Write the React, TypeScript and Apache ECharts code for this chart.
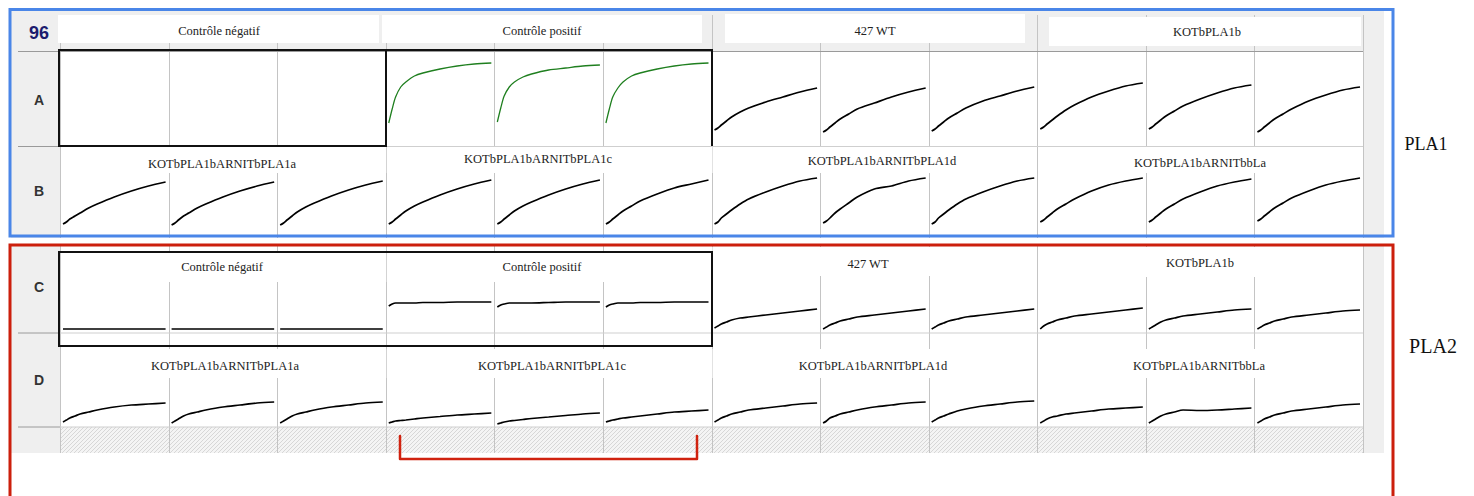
import React, { useEffect, useRef } from "react";
import * as echarts from "echarts";

// ---------- DATA ----------
const PLATE_ID = "96";
const PLATE_LABELS = ["PLA1", "PLA2"];
const ROW_LETTERS = ["A", "B", "C", "D"];
const GROUPS_AC = ["Contrôle négatif", "Contrôle positif", "427 WT", "KOTbPLA1b"];
const GROUPS_BD = ["KOTbPLA1bARNITbPLA1a", "KOTbPLA1bARNITbPLA1c", "KOTbPLA1bARNITbPLA1d", "KOTbPLA1bARNITbbLa"];
const TIMES_MIN = [0, 2, 4, 7, 10, 15, 20, 30, 40, 50, 60];
const GREEN_WELLS = ["A4", "A5", "A6"];

// signal per well (a.u.), one array per well, 12 wells per row
const ROW_A: number[][] = [
  [], [], [],
  [23, 37, 49, 59, 64, 70, 73, 77, 80, 82, 83],
  [24, 38, 50, 59, 64, 69, 72, 76, 78, 80, 81],
  [23, 37, 49, 58, 64, 70, 73, 77, 80, 82, 83],
  [16, 18, 21, 25, 29, 34, 38, 44, 49, 54, 58],
  [14, 16, 19, 23, 27, 32, 37, 43, 49, 54, 58],
  [15, 17, 20, 24, 28, 33, 38, 45, 50, 55, 59],
  [17, 19, 22, 26, 30, 36, 41, 49, 55, 60, 63],
  [17, 19, 22, 26, 30, 35, 40, 47, 53, 58, 61],
  [14, 16, 19, 23, 27, 32, 37, 45, 51, 56, 59],
];
const ROW_B: number[][] = [
  [17, 19, 22, 25, 28, 33, 37, 44, 50, 55, 59],
  [16, 18, 21, 25, 28, 33, 37, 44, 50, 55, 59],
  [16, 18, 21, 25, 29, 34, 38, 45, 51, 56, 60],
  [17, 19, 22, 26, 30, 35, 39, 46, 52, 57, 61],
  [17, 19, 22, 26, 30, 35, 39, 46, 52, 57, 61],
  [17, 19, 22, 26, 30, 35, 40, 47, 53, 57, 61],
  [17, 19, 23, 27, 31, 37, 42, 49, 55, 60, 63],
  [18, 20, 23, 28, 32, 38, 44, 52, 55, 60, 63],
  [17, 19, 23, 27, 31, 37, 42, 49, 55, 60, 63],
  [19, 21, 24, 28, 32, 37, 42, 50, 56, 60, 63],
  [19, 21, 24, 28, 32, 37, 42, 49, 55, 59, 62],
  [20, 22, 25, 29, 33, 38, 43, 50, 56, 60, 63],
];
const ROW_C: number[][] = [
  [4, 4, 4, 4, 4, 4, 4, 4, 4, 4, 4],
  [4, 4, 4, 4, 4, 4, 4, 4, 4, 4, 4],
  [4, 4, 4, 4, 4, 4, 4, 4, 4, 4, 4],
  [27, 29, 30, 30, 30, 30, 30.5, 30.5, 31, 31, 31],
  [26, 28, 29, 30, 30, 30, 30, 30.5, 31, 31, 31],
  [26, 28, 29, 30, 30, 30, 30.5, 30.5, 31, 31, 31],
  [5, 7, 9, 11, 13, 15, 16, 18, 20, 22, 24],
  [4, 6, 8, 10, 12, 14, 16, 18, 20, 22, 24],
  [4, 6, 8, 10, 12, 14, 16, 18, 20, 22, 24],
  [4, 7, 9, 11, 13, 15, 17, 19, 21, 23, 25],
  [4, 6, 8, 11, 13, 15, 17, 19, 21, 23, 24],
  [4, 6, 8, 10, 12, 14, 16, 18, 20, 22, 23],
];
const ROW_D: number[][] = [
  [5, 7, 9, 11, 13, 15, 17, 20, 22, 23, 24],
  [4, 6, 8, 11, 13, 15, 17, 20, 22, 24, 25],
  [4, 6, 8, 11, 13, 15, 17, 20, 22, 24, 25],
  [4, 5, 6, 6.5, 7, 8, 9, 10.5, 12, 13, 14],
  [3, 4, 5, 6, 6.5, 7.5, 8.5, 10, 11.5, 13, 14],
  [5, 6, 7, 8, 9, 10, 11, 13, 15, 16, 17],
  [5, 7, 9, 11, 13, 15, 17, 19, 21, 23, 24],
  [4, 6, 9, 11, 13, 15, 17, 20, 22, 24, 25],
  [5, 7, 9, 11, 13, 16, 18, 21, 23, 25, 26],
  [4, 6, 8, 10, 11, 13, 14, 16, 18, 19, 20],
  [4, 6, 8, 11, 13, 15, 17, 16.5, 17, 18, 19],
  [4, 6, 8, 10, 12, 14, 16, 18, 20, 22, 23],
];
const ROWS_DATA = [ROW_A, ROW_B, ROW_C, ROW_D];

// ---------- LAYOUT ----------
const X0 = 60;
const X1 = 1363;
const COL_W = (X1 - X0) / 12;
const colX = (i: number) => X0 + i * COL_W;
const ROW_BOTTOM = [146, 241, 333, 427];
const ROW_MID = [100, 191, 287, 380];
const WELL_H = 95;
const Y_MAX = 95;

const LABEL_POS = [
  { x: [219, 542, 875, 1207], y: [31, 31, 31, 32] },
  { x: [222, 538, 882, 1200], y: [164, 159, 161, 163] },
  { x: [222, 542, 868, 1200], y: [267, 267, 264, 263] },
  { x: [225, 552, 873, 1199], y: [366, 366, 366, 366] },
];
const HEADER_BOXES = [
  [58, 15, 321, 28],
  [382, 15, 320, 28],
  [725, 14, 300, 29],
  [1049, 17, 312, 29],
];
const BOX_Y = [
  null,
  [[147, 173], [147, 173], [147, 173], [147, 173]],
  [[253, 282], [253, 282], [247, 276], [247, 277]],
  [[349, 378], [349, 378], [349, 378], [349, 378]],
];

const SERIF = '"Liberation Serif", "DejaVu Serif", serif';
const SANS = '"Liberation Sans", Arial, sans-serif';
const LABEL_FONT = "12.5px " + SERIF;

function txt(text: string, x: number, y: number, font: string, fill: string, z = 12) {
  return {
    type: "text",
    z,
    x,
    y,
    style: {
      text,
      font,
      fill,
      textAlign: "center",
      textVerticalAlign: "middle",
      align: "center",
      verticalAlign: "middle",
    },
  };
}

function rect(x: number, y: number, w: number, h: number, style: any, z = 0) {
  return { type: "rect", z, shape: { x, y, width: w, height: h }, style };
}

function line(x1: number, y1: number, x2: number, y2: number, stroke: string, z = 1, w = 1) {
  return { type: "line", z, shape: { x1, y1, x2, y2 }, style: { stroke, lineWidth: w } };
}

export default function App() {
  const ref = useRef<HTMLDivElement>(null);

  useEffect(() => {
    if (!ref.current) return;
    const chart = echarts.init(ref.current, null, { renderer: "svg" });

    const grids: any[] = [];
    const xAxes: any[] = [];
    const yAxes: any[] = [];
    const series: any[] = [];

    ROWS_DATA.forEach((rowData, r) => {
      rowData.forEach((vals, c) => {
        if (!vals.length) return;
        const idx = grids.length;
        grids.push({
          left: colX(c) + 3,
          width: COL_W - 6,
          top: ROW_BOTTOM[r] - WELL_H,
          height: WELL_H,
          containLabel: false,
        });
        xAxes.push({ type: "value", gridIndex: idx, min: 0, max: 60, show: false });
        yAxes.push({ type: "value", gridIndex: idx, min: 0, max: Y_MAX, show: false });
        const wellId = ROW_LETTERS[r] + (c + 1);
        const green = GREEN_WELLS.includes(wellId);
        series.push({
          type: "line",
          name: wellId,
          xAxisIndex: idx,
          yAxisIndex: idx,
          data: TIMES_MIN.map((t, i) => [t, vals[i]]),
          showSymbol: false,
          smooth: 0.3,
          z: 5,
          lineStyle: { color: green ? "#1f7f1f" : "#000000", width: green ? 1.3 : 1.7 },
        });
      });
    });

    const g: any[] = [];
    // gray panel + white wells
    g.push(rect(11, 11, 1373, 442, { fill: "#efefef" }, 0));
    g.push(rect(X0, 51, X1 - X0, 427 - 51, { fill: "#ffffff" }, 0));
    // hatch row
    g.push(rect(X0, 427, X1 - X0, 26, { fill: "#f4f4f4" }, 0));
    for (let x = X0 - 26; x < X1; x += 4) {
      let xa = x, ya = 453, xb = x + 26, yb = 427;
      if (xa < X0) { ya = 453 - (X0 - xa); xa = X0; }
      if (xb > X1) { yb = 427 + (xb - X1); xb = X1; }
      g.push(line(xa, ya, xb, yb, "#cfcfcf", 0, 0.8));
    }
    // vertical well lines
    for (let i = 0; i <= 12; i++) {
      const x = Math.round(colX(i)) + 0.5;
      g.push(line(x, 15, x, 453, "#c4c4c4", 1, 1));
    }
    // horizontal lines
    g.push(line(18, 51.5, X1, 51.5, "#9a9a9a", 1, 1));
    [146.5, 333, 427].forEach((y) => {
      g.push(line(18, y, X0, y, "#9a9a9a", 1, 1));
      g.push(line(X0, y, X1, y, "#cfcfcf", 1, 1));
    });
    // gap between the two screenshots
    g.push(rect(0, 238, 1474, 7, { fill: "#ffffff" }, 3));

    // header boxes (row A labels)
    HEADER_BOXES.forEach((b, i) => {
      g.push(rect(b[0], b[1], b[2], b[3], { fill: "#ffffff" }, 2));
      g.push(txt(GROUPS_AC[i], LABEL_POS[0].x[i], LABEL_POS[0].y[i], LABEL_FONT, "#222"));
    });
    // in-row label boxes B, C, D
    [1, 2, 3].forEach((r) => {
      const names = r === 2 ? GROUPS_AC : GROUPS_BD;
      names.forEach((name, gi) => {
        const yy = (BOX_Y[r] as number[][])[gi];
        const xa = colX(gi * 3) + 1;
        const xb = colX(gi * 3 + 3) - 1;
        g.push(rect(xa, yy[0], xb - xa, yy[1] - yy[0], { fill: "#ffffff" }, 2));
        g.push(txt(name, LABEL_POS[r].x[gi], LABEL_POS[r].y[gi], LABEL_FONT, "#222"));
      });
    });

    // plate id + row letters
    g.push(txt(PLATE_ID, 39, 33, "bold 18px " + SANS, "#1c1c6e"));
    ROW_LETTERS.forEach((l, r) => g.push(txt(l, 39, ROW_MID[r], "bold 14px " + SANS, "#333333")));

    // black highlight frames
    g.push({
      type: "polyline", z: 8,
      shape: { points: [[386, 50], [59, 50], [59, 146], [386, 146], [386, 50], [712, 50], [712, 146]] },
      style: { stroke: "#111111", lineWidth: 2, fill: "none" },
    });
    g.push(rect(59, 252, 712 - 59, 346 - 252, { fill: "none", stroke: "#111111", lineWidth: 2 }, 8));

    // plate frames
    g.push(rect(10, 9.5, 1383, 226.5, { fill: "none", stroke: "#4a86e8", lineWidth: 3 }, 10));
    g.push(rect(10, 245, 1383, 260, { fill: "none", stroke: "#cc1f0c", lineWidth: 3 }, 10));
    g.push(txt(PLATE_LABELS[0], 1426, 144, "18px " + SERIF, "#111111"));
    g.push(txt(PLATE_LABELS[1], 1433, 346, "20px " + SERIF, "#111111"));

    // red bracket
    g.push({
      type: "polyline", z: 10,
      shape: { points: [[400, 436], [400, 459], [697, 459], [697, 436]] },
      style: { stroke: "#d0220f", lineWidth: 2.5, fill: "none", lineJoin: "round", lineCap: "round" },
    });

    chart.setOption({
      animation: false,
      backgroundColor: "#ffffff",
      grid: grids,
      xAxis: xAxes,
      yAxis: yAxes,
      series,
      graphic: { elements: g },
    });

    return () => chart.dispose();
  }, []);

  return (
    <div
      ref={ref}
      style={{ position: "fixed", left: 0, top: 0, width: 1474, height: 496 }}
    />
  );
}
